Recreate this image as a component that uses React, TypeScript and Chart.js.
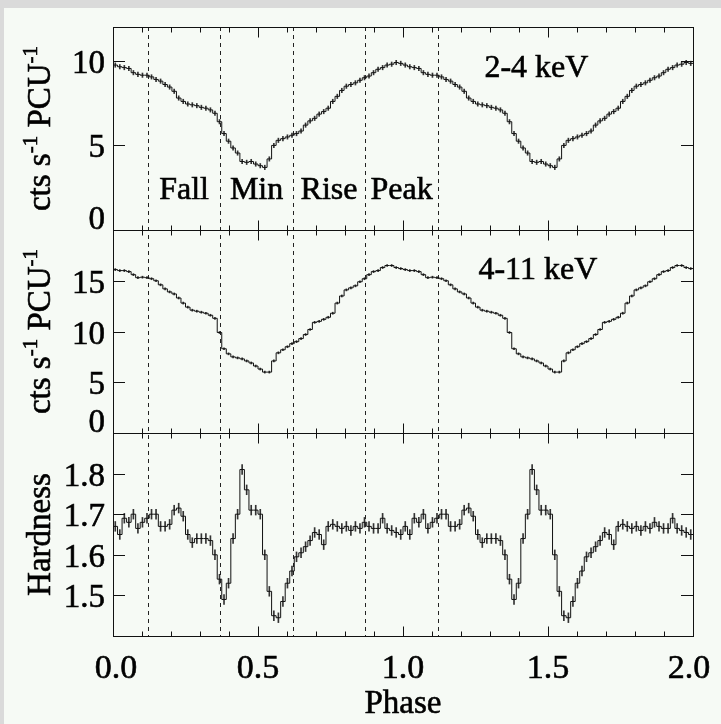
import React, { useEffect, useRef } from 'react';
import { Chart, registerables } from 'chart.js';

Chart.register(...registerables);

// ---------------- data ----------------
const BINS_PER_CYCLE = 64;
const CYCLES = 2;

// 2-4 keV count rate per phase bin (cts/s/PCU), one cycle
const RATE_2_4 = [
  9.75, 9.65, 9.6, 9.55, 9.3, 9.2, 9.15, 9.15, 9.05, 8.9, 8.8, 8.6, 8.45, 8.2, 7.8, 7.6,
  7.45, 7.4, 7.35, 7.25, 7.2, 7.1, 6.9, 6.4, 5.7, 5.25, 4.85, 4.55, 4.05, 4.0, 4.05, 3.9,
  3.8, 3.7, 4.2, 5.0, 5.3, 5.4, 5.5, 5.6, 5.7, 5.85, 6.2, 6.45, 6.6, 6.85, 7.0, 7.2,
  7.6, 7.9, 8.25, 8.5, 8.6, 8.7, 8.85, 9.0, 9.1, 9.3, 9.5, 9.6, 9.75, 9.8, 9.9, 9.85,
];

// 4-11 keV count rate per phase bin, one cycle
const RATE_4_11 = [
  16.1, 16.0, 16.0, 15.9, 15.6, 15.3, 15.35, 15.3, 15.2, 15.0, 14.6, 14.2, 13.9, 13.7, 13.3, 12.8,
  12.4, 12.1, 12.0, 11.9, 11.8, 11.6, 11.3, 9.9, 8.3, 7.8, 7.5, 7.4, 7.3, 7.1, 6.9, 6.6,
  6.3, 6.0, 6.0, 7.1, 7.9, 8.2, 8.5, 8.8, 9.0, 9.3, 9.7, 10.2, 10.9, 11.0, 11.2, 11.4,
  11.8, 12.8, 13.5, 14.1, 14.3, 14.5, 14.9, 15.2, 15.6, 15.9, 16.0, 16.3, 16.5, 16.5, 16.3, 16.2,
];

// hardness ratio per phase bin, one cycle
const HARDNESS = [
  1.67, 1.65, 1.69, 1.68, 1.7, 1.665, 1.68, 1.69, 1.7, 1.7, 1.67, 1.67, 1.675, 1.71, 1.715, 1.695,
  1.65, 1.63, 1.64, 1.64, 1.64, 1.635, 1.6, 1.54, 1.49, 1.53, 1.64, 1.7, 1.81, 1.76, 1.71, 1.71,
  1.7, 1.6, 1.51, 1.45, 1.445, 1.485, 1.53, 1.56, 1.595, 1.605, 1.62, 1.635, 1.655, 1.65, 1.625, 1.67,
  1.675, 1.67, 1.665, 1.67, 1.66, 1.67, 1.665, 1.68, 1.67, 1.665, 1.665, 1.69, 1.665, 1.66, 1.655, 1.65,
];

const ERR_2_4 = 0.13;
const ERR_4_11 = 0.1;
const ERR_HARD = 0.012;

const PHASE_BOUNDS = [0.12, 0.37, 0.62, 0.87, 1.12];
const PHASE_NAMES = ['Fall', 'Min', 'Rise', 'Peak'];
const BAND_NAMES = ['2-4 keV', '4-11 keV'];

const X_TICKS = [0, 0.5, 1, 1.5, 2];
const X_MINOR_STEP = 0.1;
const Y1_TICKS = [0, 5, 10];
const Y2_TICKS = [0, 5, 10, 15];
const YH_TICKS = [1.5, 1.6, 1.7, 1.8];
const X_TITLE = 'Phase';

// ---------------- styling ----------------
const FONT = '"Liberation Serif", "Times New Roman", Times, serif';
const INK = '#111';

type Part = [string, boolean];
const RATE_TITLE: Part[] = [['cts s', false], ['-1', true], [' PCU', false], ['-1', true]];
const HARD_TITLE: Part[] = [['Hardness', false]];

const PANELS = [
  { id: 'y1', min: 0, max: 12, ticks: Y1_TICKS, values: RATE_2_4, err: ERR_2_4, title: RATE_TITLE, dec: 0, weight: 3 },
  { id: 'y2', min: 0, max: 20, ticks: Y2_TICKS, values: RATE_4_11, err: ERR_4_11, title: RATE_TITLE, dec: 0, weight: 2 },
  { id: 'yH', min: 1.4, max: 1.9, ticks: YH_TICKS, values: HARDNESS, err: ERR_HARD, title: HARD_TITLE, dec: 1, weight: 1 },
];

function stepPoints(values: number[]) {
  const pts: { x: number; y: number }[] = [];
  for (let c = 0; c < CYCLES; c++) {
    values.forEach((v, i) => pts.push({ x: (c * BINS_PER_CYCLE + i) / BINS_PER_CYCLE, y: v }));
  }
  pts.push({ x: CYCLES, y: values[values.length - 1] });
  return pts;
}

function errPoints(values: number[], e: number) {
  const pts: { x: number; y: number[] }[] = [];
  for (let c = 0; c < CYCLES; c++) {
    values.forEach((v, i) =>
      pts.push({ x: (c * BINS_PER_CYCLE + i + 0.5) / BINS_PER_CYCLE, y: [v - e, v + e] })
    );
  }
  return pts;
}

function font(size: number) {
  return `${size}px ${FONT}`;
}

// text drawn with a hair-line outline so it looks as heavy as the printed original
function heavyText(ctx: CanvasRenderingContext2D, t: string, x: number, y: number) {
  ctx.fillText(t, x, y);
  ctx.save();
  ctx.lineWidth = 0.6;
  ctx.strokeStyle = '#000';
  ctx.setLineDash([]);
  ctx.strokeText(t, x, y);
  ctx.restore();
}

function drawParts(ctx: CanvasRenderingContext2D, parts: Part[], size: number, supSize: number) {
  let w = 0;
  for (const [t, sup] of parts) {
    ctx.font = font(sup ? supSize : size);
    w += ctx.measureText(t).width;
  }
  let x = -w / 2;
  for (const [t, sup] of parts) {
    ctx.font = font(sup ? supSize : size);
    heavyText(ctx, t, x, sup ? -13 : 0);
    x += ctx.measureText(t).width;
  }
}

const paperPlugin = {
  id: 'paper',
  beforeDraw(chart: any) {
    const { ctx, width, height } = chart;
    ctx.save();
    ctx.fillStyle = '#dadada';
    ctx.fillRect(0, 0, width, height);
    ctx.fillStyle = '#f6faf5';
    ctx.fillRect(4, 8, width - 4, height - 8);
    ctx.restore();
  },
  beforeDatasetsDraw(chart: any) {
    const { ctx, chartArea, scales } = chart;
    ctx.save();
    ctx.strokeStyle = '#222';
    ctx.lineWidth = 1;
    ctx.setLineDash([4, 4]);
    for (const p of PHASE_BOUNDS) {
      const x = Math.round(scales.x.getPixelForValue(p)) + 0.5;
      ctx.beginPath();
      ctx.moveTo(x, chartArea.top);
      ctx.lineTo(x, chartArea.bottom);
      ctx.stroke();
    }
    ctx.restore();
  },
  afterDatasetsDraw(chart: any) {
    const { ctx, chartArea, scales } = chart;
    const xs = scales.x;
    const L = chartArea.left;
    const R = chartArea.right;
    ctx.save();
    ctx.strokeStyle = INK;
    ctx.fillStyle = '#000';
    ctx.lineWidth = 1;
    ctx.setLineDash([]);

    PANELS.forEach((p) => {
      const s = scales[p.id];
      const top = Math.round(s.top) + 0.5;
      const bot = Math.round(s.bottom) + 0.5;
      // frame
      ctx.strokeRect(Math.round(L) + 0.5, top, Math.round(R - L), bot - top);
      // x ticks, inward on top and bottom
      const nMinor = Math.round((xs.max - xs.min) / X_MINOR_STEP);
      for (let k = 0; k <= nMinor; k++) {
        const v = xs.min + k * X_MINOR_STEP;
        const major = X_TICKS.some((t) => Math.abs(t - v) < 1e-6);
        const len = major ? 10 : 5;
        const x = Math.round(xs.getPixelForValue(v)) + 0.5;
        ctx.beginPath();
        ctx.moveTo(x, top);
        ctx.lineTo(x, top + len);
        ctx.moveTo(x, bot);
        ctx.lineTo(x, bot - len);
        ctx.stroke();
      }
      // y ticks and labels
      ctx.font = font(33);
      ctx.textAlign = 'right';
      ctx.textBaseline = 'alphabetic';
      for (const t of p.ticks) {
        const y = Math.round(s.getPixelForValue(t)) + 0.5;
        ctx.beginPath();
        ctx.moveTo(L, y);
        ctx.lineTo(L + 12, y);
        ctx.moveTo(R, y);
        ctx.lineTo(R - 12, y);
        ctx.stroke();
        let base = y + 11;
        if (base > s.bottom - 1) base = s.bottom - 1;
        heavyText(ctx, t.toFixed(p.dec), L - 8, base);
      }
      // axis title (rotated)
      ctx.save();
      ctx.translate(50, (s.top + s.bottom) / 2);
      ctx.rotate(-Math.PI / 2);
      ctx.textAlign = 'left';
      drawParts(ctx, p.title, 33, 21);
      ctx.restore();
    });

    // x tick labels (end labels kept just inside the frame ends, as printed)
    const bottomScale = scales[PANELS[PANELS.length - 1].id];
    ctx.font = font(34);
    ctx.textAlign = 'center';
    ctx.textBaseline = 'alphabetic';
    for (const t of X_TICKS) {
      let x = xs.getPixelForValue(t);
      if (t === xs.min) x += 3;
      if (t === xs.max) x -= 4;
      heavyText(ctx, t.toFixed(1), x, bottomScale.bottom + 42);
    }
    ctx.font = font(33);
    heavyText(ctx, X_TITLE, xs.getPixelForValue(1), bottomScale.bottom + 77);

    // phase interval names in top panel
    const y1 = scales.y1;
    ctx.font = font(32);
    PHASE_NAMES.forEach((name, i) => {
      const mid = (PHASE_BOUNDS[i] + PHASE_BOUNDS[i + 1]) / 2;
      heavyText(ctx, name, xs.getPixelForValue(mid), y1.getPixelForValue(1.83));
    });
    // energy band names
    ctx.font = font(32);
    heavyText(ctx, BAND_NAMES[0], xs.getPixelForValue(1.46), y1.getPixelForValue(9.05));
    heavyText(ctx, BAND_NAMES[1], xs.getPixelForValue(1.465), scales.y2.getPixelForValue(15.2));
    ctx.restore();
  },
};

export default function App() {
  const ref = useRef<HTMLCanvasElement>(null);
  useEffect(() => {
    document.body.style.margin = '0';
    const datasets: any[] = [];
    PANELS.forEach((p) => {
      datasets.push({
        type: 'line',
        data: stepPoints(p.values),
        yAxisID: p.id,
        stepped: 'before',
        borderColor: INK,
        borderWidth: 1,
        pointRadius: 0,
        fill: false,
      });
      datasets.push({
        type: 'bar',
        data: errPoints(p.values, p.err),
        yAxisID: p.id,
        backgroundColor: '#333',
        borderWidth: 0,
        barThickness: 1,
        grouped: false,
      });
    });

    const hiddenAxis = {
      grid: { display: false },
      border: { display: false },
      ticks: { display: false },
    };
    const scales: any = {
      x: {
        type: 'linear',
        min: 0,
        max: CYCLES,
        offset: false,
        ...hiddenAxis,
        afterFit: (s: any) => {
          s.height = 88;
        },
      },
    };
    PANELS.forEach((p) => {
      scales[p.id] = {
        type: 'linear',
        position: 'left',
        stack: 'panels',
        stackWeight: 1,
        weight: p.weight,
        min: p.min,
        max: p.max,
        ...hiddenAxis,
        afterFit: (s: any) => {
          s.width = 113;
        },
      };
    });

    const chart = new Chart(ref.current as HTMLCanvasElement, {
      type: 'line',
      data: { datasets },
      options: {
        responsive: false,
        animation: false,
        events: [],
        layout: { padding: { top: 27, right: 28, bottom: 0, left: 0 } },
        plugins: { legend: { display: false }, tooltip: { enabled: false } },
        scales,
      },
      plugins: [paperPlugin],
    } as any);
    return () => chart.destroy();
  }, []);
  return <canvas ref={ref} width={721} height={724} style={{ display: 'block' }} />;
}
